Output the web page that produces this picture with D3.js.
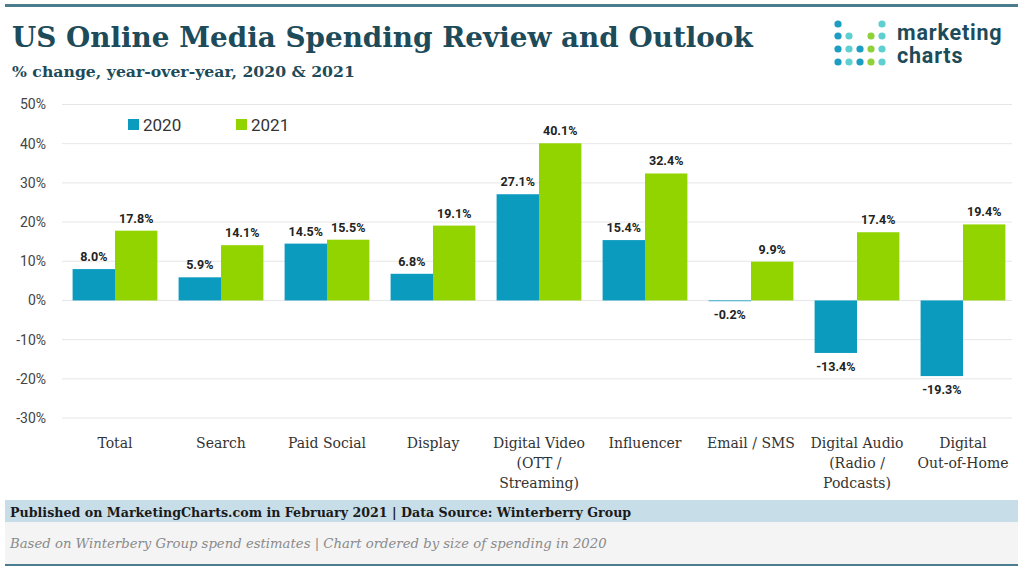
<!DOCTYPE html>
<html><head><meta charset="utf-8">
<script src="https://cdn.jsdelivr.net/npm/d3@7/dist/d3.min.js"></script>
<style>body{margin:0;background:#fff}svg{display:block}</style>
</head><body><svg id="c" width="1024" height="574"></svg>
<script>
const categories = [["Total"],["Search"],["Paid Social"],["Display"],["Digital Video","(OTT /","Streaming)"],["Influencer"],["Email / SMS"],["Digital Audio","(Radio /","Podcasts)"],["Digital","Out-of-Home"]];
const series2020 = [8.0,5.9,14.5,6.8,27.1,15.4,-0.2,-13.4,-19.3];
const series2021 = [17.8,14.1,15.5,19.1,40.1,32.4,9.9,17.4,19.4];
const seriesNames = ["2020","2021"];
const yTicks = [50,40,30,20,10,0,-10,-20,-30];

const svg = d3.select("#c");
const teal = "#1d4b5a", c2020 = "#0a9bbf", c2021 = "#92d400";
const slab = "'DejaVu Serif', serif";

function fitText(sel, w){ const n=sel.node(); const len=n.getComputedTextLength(); const fs=parseFloat(sel.attr("font-size")); sel.attr("font-size", fs*w/len); }

svg.append("rect").attr("x",5).attr("y",4).attr("width",1013).attr("height",3).attr("fill","#4c7d8f");
const t = svg.append("text").attr("x",12).attr("y",47).attr("font-family",slab).attr("font-weight","bold").attr("font-size",30).attr("fill",teal).text("US Online Media Spending Review and Outlook");
fitText(t,741);
const st = svg.append("text").attr("x",12).attr("y",77).attr("font-family",slab).attr("font-weight","bold").attr("font-size",16).attr("fill",teal).text("% change, year-over-year, 2020 & 2021");
fitText(st,343);

// logo
const dotCols=[838,849,860,871,882], dotRows=[24,36,49,62];
const B="#1b9ec2", L="#5fcfd2", G="#8fd13a";
const logo=[[B,null,null,null,L],[B,L,null,G,L],[B,L,B,G,L],[B,L,B,G,L]];
logo.forEach((row,ri)=>row.forEach((c,ci)=>{ if(c) svg.append("circle").attr("cx",dotCols[ci]).attr("cy",dotRows[ri]).attr("r",3.6).attr("fill",c); }));
const lt = svg.append("text").attr("x",897).attr("y",40).attr("font-family","Roboto, sans-serif").attr("font-weight","bold").attr("font-size",21.5).attr("letter-spacing",0.8).attr("fill",teal);
lt.append("tspan").attr("x",897).text("marketing");
lt.append("tspan").attr("x",897).attr("dy",23).text("charts");

// scales
const y = d3.scaleLinear().domain([-30,50]).range([418,104.5]);
const x = d3.scaleBand().domain(d3.range(categories.length)).range([62,1016]).paddingInner(0.2).paddingOuter(0.1);
const xs = d3.scaleBand().domain(seriesNames).range([0,x.bandwidth()]);

// grid
svg.append("g").selectAll("line").data(yTicks).join("line")
  .attr("x1",62).attr("x2",1012).attr("y1",d=>y(d)).attr("y2",d=>y(d))
  .attr("stroke","#e6e6e6").attr("stroke-width",1);
const yAxis = svg.append("g").attr("transform","translate(62,0)")
  .call(d3.axisLeft(y).tickValues(yTicks).tickSize(0).tickPadding(16).tickFormat(d=>d+"%"));
yAxis.select(".domain").remove();
yAxis.selectAll("text").attr("font-family","Roboto, sans-serif").attr("font-size",14).attr("fill","#444");

// bars
const data = categories.map((c,i)=>({i, vals:[series2020[i],series2021[i]]}));
const groups = svg.append("g").selectAll("g").data(data).join("g").attr("transform",d=>`translate(${x(d.i)},0)`);
groups.selectAll("rect").data(d=>d.vals.map((v,k)=>({v,k}))).join("rect")
  .attr("x",d=>xs(seriesNames[d.k])).attr("width",xs.bandwidth())
  .attr("y",d=>y(Math.max(0,d.v))).attr("height",d=>Math.abs(y(d.v)-y(0)))
  .attr("fill",d=>d.k?c2021:c2020);
groups.selectAll("text").data(d=>d.vals.map((v,k)=>({v,k}))).join("text")
  .attr("x",d=>xs(seriesNames[d.k])+xs.bandwidth()/2)
  .attr("y",d=>d.v>=0? y(d.v)-8 : y(d.v)+18)
  .attr("text-anchor","middle").attr("font-family","Roboto, sans-serif").attr("font-weight","bold").attr("font-size",12.5).attr("fill","#222")
  .text(d=>d.v.toFixed(1)+"%");

// x labels
const xl = svg.append("g").selectAll("text").data(categories).join("text")
  .attr("x",(d,i)=>x(i)+x.bandwidth()/2).attr("y",448).attr("text-anchor","middle")
  .attr("font-family",slab).attr("font-size",14).attr("fill","#333");
xl.selectAll("tspan").data(d=>d).join("tspan").attr("x",function(){return this.parentNode.getAttribute("x");})
  .attr("dy",(d,i)=>i?20:0).text(d=>d);

// legend
seriesNames.forEach((s,k)=>{
  const lx = 128 + k*108;
  svg.append("rect").attr("x",lx).attr("y",119).attr("width",11).attr("height",11).attr("fill",k?c2021:c2020);
  svg.append("text").attr("x",lx+15).attr("y",131).attr("font-family","Roboto, sans-serif").attr("font-size",17).attr("fill","#333").text(s);
});

// footer
svg.append("rect").attr("x",5).attr("y",500).attr("width",1013).attr("height",22).attr("fill","#c7dde7");
svg.append("rect").attr("x",5).attr("y",522).attr("width",1013).attr("height",42).attr("fill","#f4f4f4");
svg.append("rect").attr("x",5).attr("y",564).attr("width",1013).attr("height",2).attr("fill","#4c7d8f");
const f1 = svg.append("text").attr("x",10).attr("y",517).attr("font-family",slab).attr("font-weight","bold").attr("font-size",14).attr("fill","#1a1a1a").text("Published on MarketingCharts.com in February 2021 | Data Source: Winterberry Group");
fitText(f1,622);
const f2 = svg.append("text").attr("x",10).attr("y",548).attr("font-family",slab).attr("font-style","italic").attr("font-size",13).attr("fill","#8a8a8a").text("Based on Winterbery Group spend estimates | Chart ordered by size of spending in 2020");
fitText(f2,597);
</script></body></html>
